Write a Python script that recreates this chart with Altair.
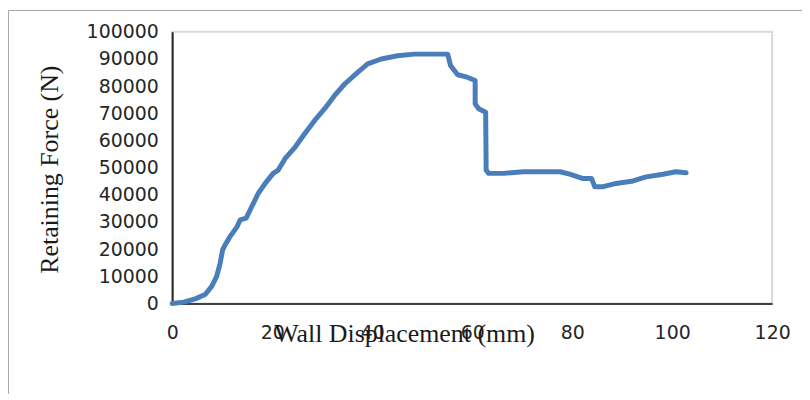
import altair as alt
import pandas as pd

# Wall displacement (mm) and retaining force (N)
disp = [0, 2.3, 4.6, 6.6, 7.9, 8.9, 9.6, 10.1, 10.6, 11.6, 13.0, 13.6, 14.8,
        15.9, 17.2, 18.6, 20.2, 21.2, 22.6, 24.6, 26.5, 28.5, 30.5, 32.5,
        34.5, 37.1, 39.1, 41.8, 45.1, 48.4, 51.7, 55.1, 55.7, 57.1, 59.0,
        60.6, 60.6, 61.3, 62.7, 62.8, 63.3, 66.3, 70.3, 77.6, 79.5, 82.2,
        83.9, 84.5, 86.2, 88.8, 92.2, 94.8, 98.2, 100.7, 102.8]
force = [0, 500, 1700, 3300, 6300, 10000, 14900, 19800, 21600, 24700, 28300,
         30800, 31400, 35600, 40500, 44200, 47900, 49100, 53400, 57600, 62500,
         67400, 71700, 76600, 80800, 85100, 88200, 90000, 91200, 91800, 91800,
         91800, 87500, 84200, 83300, 82100, 73500, 71700, 70400, 49100, 47900,
         47900, 48500, 48500, 47600, 46000, 46000, 43000, 43000, 44200, 45100,
         46600, 47600, 48500, 48100]
x_ticks = [0, 20, 40, 60, 80, 100, 120]
y_ticks = [0, 10000, 20000, 30000, 40000, 50000, 60000, 70000, 80000, 90000, 100000]

df = pd.DataFrame({"disp": disp, "force": force, "order": list(range(len(disp)))})

line = alt.Chart(df).mark_line(
    color="#4A7EBB", strokeWidth=5, strokeCap="round", strokeJoin="round"
).encode(
    x=alt.X("disp:Q",
            scale=alt.Scale(domain=[0, 120], nice=False, zero=True),
            axis=alt.Axis(
                values=x_ticks, title="Wall Displacement (mm)", grid=False,
                ticks=False, tickSize=0, labelPadding=20,
                labelFont="DejaVu Sans", labelFontSize=19, labelColor="#262626",
                domainColor="#404040", domainWidth=2,
                titleFont="Liberation Serif", titleFontSize=26,
                titleFontWeight="normal", titleColor="#1a1a1a",
                titleX=233, titleY=38.6, titleAlign="center",
                titleBaseline="alphabetic", labelFlush=False,
            )),
    y=alt.Y("force:Q",
            scale=alt.Scale(domain=[0, 100000], nice=False),
            axis=alt.Axis(
                values=y_ticks, format="d", title="Retaining Force (N)",
                grid=False, ticks=False, tickSize=0, labelPadding=14,
                labelFont="DejaVu Sans", labelFontSize=19, labelColor="#262626",
                domainColor="#262626", domainWidth=2,
                titleFont="Liberation Serif", titleFontSize=26,
                titleFontWeight="normal", titleColor="#1a1a1a",
                titleX=-115, titleY=138, titleAngle=270, titleAlign="center",
                titleBaseline="alphabetic", labelFlush=False,
            )),
    order="order:Q",
)

border = alt.Chart(pd.DataFrame({"a": [0]})).mark_rect(
    filled=False, stroke="#a6a6a6", strokeWidth=1
).encode(
    x=alt.value(-164.5), x2=alt.value(660),
    y=alt.value(-21.5), y2=alt.value(400),
)

chart = alt.layer(border, line).properties(
    width=603, height=273,
    autosize=alt.AutoSizeParams(type="none"),
    padding={"left": 165, "top": 23, "right": 30, "bottom": 90},
).configure_view(stroke="#d9d9d9", strokeWidth=2)

chart.save("out.html", embed_options={"renderer": "svg", "actions": False})
